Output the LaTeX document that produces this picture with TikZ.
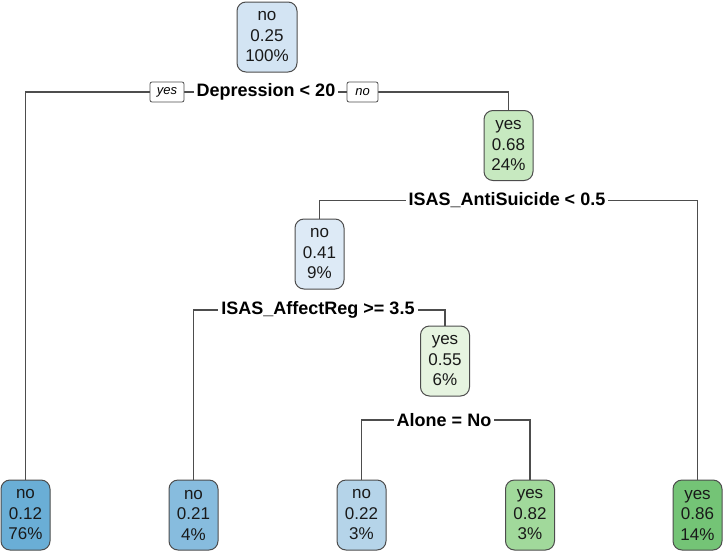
\documentclass[tikz,border=0pt]{standalone}
\usepackage{fontspec}
\setmainfont{Liberation Sans}
\definecolor{edgegray}{HTML}{4D4D4D}
\definecolor{cRoot}{HTML}{D3E4F3}
\definecolor{cN3}{HTML}{DDEAF6}
\definecolor{cL1}{HTML}{6AAED6}
\definecolor{cL2}{HTML}{87BCDE}
\definecolor{cL3}{HTML}{B5D4E9}
\definecolor{cN2}{HTML}{C7E9C0}
\definecolor{cN4}{HTML}{E6F4E0}
\definecolor{cL4}{HTML}{A1D99B}
\definecolor{cL5}{HTML}{74C476}
\tikzset{
  treenode/.style={draw=edgegray, line width=1pt, rounded corners=9pt,
    minimum width=49pt, minimum height=70pt, inner xsep=7pt, inner ysep=0pt,
    align=center, text=black!90, font=\fontsize{17}{20.5}\selectfont},
  splitlabel/.style={fill=white, inner xsep=3pt, inner ysep=2pt,
    font=\fontsize{18}{20}\selectfont\bfseries},
  yesno/.style={draw=edgegray, fill=white, line width=0.8pt, rounded corners=2pt,
    minimum height=20pt, inner xsep=3pt, inner ysep=0pt,
    font=\fontsize{13}{15}\selectfont\itshape},
  branch/.style={draw=edgegray, line width=1.3pt}
}
\begin{document}
\begin{tikzpicture}[x=1pt,y=-1pt]
\useasboundingbox (0,0) rectangle (723,552);
% nodes
\node[treenode, fill=cRoot, minimum width=60pt] (n1) at (267,37) {no\\0.25\\100\%};
\node[treenode, fill=cN2] (n2) at (508.5,145.5) {yes\\0.68\\24\%};
\node[treenode, fill=cN3] (n3) at (319.5,254) {no\\0.41\\9\%};
\node[treenode, fill=cN4] (n4) at (445,361) {yes\\0.55\\6\%};
\node[treenode, fill=cL1] (l1) at (25.5,515) {no\\0.12\\76\%};
\node[treenode, fill=cL2] (l2) at (193.5,515) {no\\0.21\\4\%};
\node[treenode, fill=cL3] (l3) at (361.5,515) {no\\0.22\\3\%};
\node[treenode, fill=cL4] (l4) at (530,515) {yes\\0.82\\3\%};
\node[treenode, fill=cL5] (l5) at (697.5,515) {yes\\0.86\\14\%};
% split coordinates
\coordinate (s1) at (266,92);
\coordinate (s2) at (507,200.5);
\coordinate (s3) at (318,310);
\coordinate (s4) at (444,420);
% branches
\draw[branch] (l1.north) -- (l1.north |- s1) -- (n2.north |- s1) -- (n2.north);
\draw[branch] (n3.north) -- (n3.north |- s2) -- (l5.north |- s2) -- (l5.north);
\draw[branch] (l2.north) -- (l2.north |- s3) -- (n4.north |- s3) -- (n4.north);
\draw[branch] (l3.north) -- (l3.north |- s4) -- (l4.north |- s4) -- (l4.north);
% split labels
\node[splitlabel] (t1) at (s1) {Depression < 20};
\node[splitlabel] (t2) at (s2) {ISAS\_AntiSuicide < 0.5};
\node[splitlabel] (t3) at (s3) {ISAS\_AffectReg >= 3.5};
\node[splitlabel] (t4) at (s4) {Alone = No};
\node[yesno, minimum width=34pt] (yes) at (167,92) {yes};
\node[yesno, minimum width=31pt] (no) at (362.5,92) {no};
\end{tikzpicture}
\end{document}
